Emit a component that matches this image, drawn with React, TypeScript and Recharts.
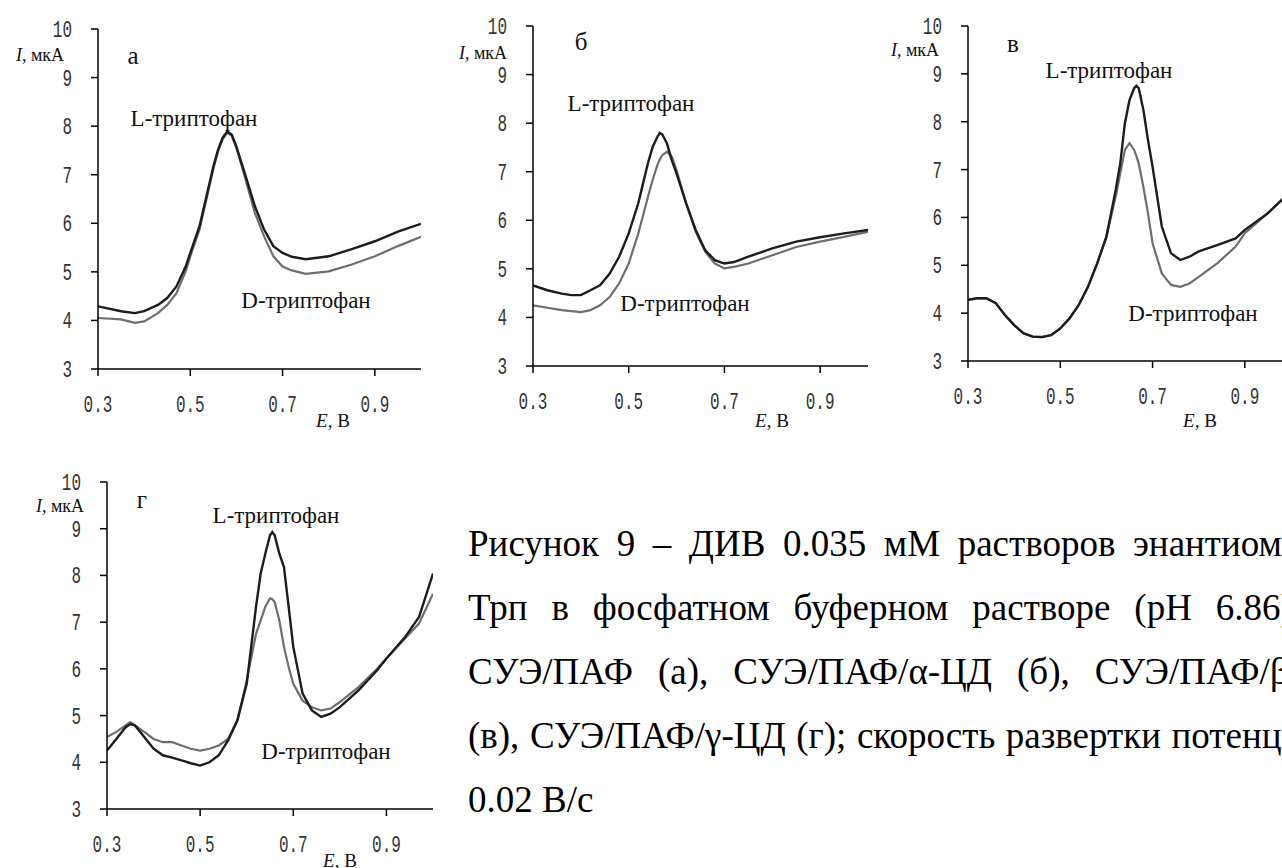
import React from "react";
import { LineChart, Line, XAxis, YAxis } from "recharts";

// ---------- data ----------
const E_TICKS = [0.3, 0.5, 0.7, 0.9];
const I_TICKS = [3, 4, 5, 6, 7, 8, 9, 10];

// panel а (СУЭ/ПАФ)
const E_A = [0.3, 0.35, 0.38, 0.4, 0.43, 0.45, 0.47, 0.49, 0.5, 0.52, 0.54, 0.55, 0.56, 0.57, 0.58, 0.59, 0.6, 0.62, 0.64, 0.66, 0.68, 0.7, 0.72, 0.75, 0.8, 0.85, 0.9, 0.95, 1.0];
const L_A = [4.29, 4.19, 4.15, 4.19, 4.32, 4.46, 4.7, 5.11, 5.39, 5.94, 6.76, 7.17, 7.51, 7.76, 7.89, 7.82, 7.58, 6.97, 6.35, 5.87, 5.53, 5.39, 5.31, 5.26, 5.32, 5.47, 5.63, 5.83, 5.99];
const D_A = [4.05, 4.02, 3.95, 3.98, 4.15, 4.32, 4.56, 5.01, 5.32, 5.87, 6.7, 7.12, 7.47, 7.73, 7.86, 7.8, 7.55, 6.9, 6.21, 5.73, 5.32, 5.11, 5.03, 4.96, 5.01, 5.15, 5.32, 5.53, 5.72];

// panel б (СУЭ/ПАФ/α-ЦД)
const E_B = [0.3, 0.33, 0.36, 0.38, 0.4, 0.42, 0.44, 0.46, 0.48, 0.5, 0.52, 0.53, 0.54, 0.55, 0.56, 0.565, 0.57, 0.58, 0.59, 0.6, 0.62, 0.64, 0.66, 0.68, 0.7, 0.72, 0.75, 0.8, 0.85, 0.9, 0.95, 1.0];
const L_B = [4.66, 4.56, 4.49, 4.46, 4.46, 4.56, 4.66, 4.9, 5.25, 5.73, 6.35, 6.76, 7.17, 7.51, 7.72, 7.8, 7.77, 7.58, 7.24, 6.96, 6.35, 5.8, 5.38, 5.18, 5.11, 5.14, 5.25, 5.42, 5.56, 5.65, 5.73, 5.8];
const D_B = [4.25, 4.2, 4.15, 4.13, 4.11, 4.15, 4.25, 4.42, 4.7, 5.11, 5.73, 6.1, 6.48, 6.83, 7.14, 7.25, 7.34, 7.41, 7.31, 7.03, 6.35, 5.76, 5.35, 5.11, 5.01, 5.04, 5.11, 5.28, 5.45, 5.56, 5.66, 5.76];

// panel в (СУЭ/ПАФ/β-ЦД)
const E_V = [0.3, 0.32, 0.34, 0.36, 0.38, 0.4, 0.42, 0.44, 0.46, 0.48, 0.5, 0.52, 0.54, 0.56, 0.58, 0.6, 0.62, 0.63, 0.64, 0.65, 0.66, 0.665, 0.67, 0.68, 0.69, 0.7, 0.72, 0.74, 0.76, 0.78, 0.8, 0.84, 0.88, 0.9, 0.95, 1.0];
const L_V = [4.28, 4.31, 4.31, 4.21, 3.96, 3.75, 3.58, 3.51, 3.5, 3.54, 3.68, 3.89, 4.17, 4.55, 5.04, 5.6, 6.57, 7.13, 7.97, 8.45, 8.7, 8.75, 8.7, 8.25, 7.62, 7.06, 5.81, 5.25, 5.11, 5.18, 5.29, 5.42, 5.56, 5.74, 6.09, 6.55];
const D_V = [4.28, 4.31, 4.31, 4.21, 3.96, 3.75, 3.58, 3.51, 3.5, 3.54, 3.68, 3.89, 4.17, 4.55, 5.04, 5.6, 6.43, 6.92, 7.41, 7.55, 7.41, 7.28, 7.13, 6.64, 6.09, 5.46, 4.83, 4.59, 4.55, 4.62, 4.76, 5.04, 5.39, 5.67, 6.09, 6.55];

// panel г (СУЭ/ПАФ/γ-ЦД)
const E_G = [0.3, 0.32, 0.34, 0.35, 0.36, 0.38, 0.4, 0.42, 0.44, 0.46, 0.48, 0.5, 0.52, 0.54, 0.56, 0.58, 0.6, 0.62, 0.63, 0.64, 0.65, 0.655, 0.66, 0.67, 0.68, 0.69, 0.7, 0.72, 0.74, 0.76, 0.78, 0.8, 0.84, 0.88, 0.9, 0.94, 0.97, 1.0];
const L_G = [4.25, 4.5, 4.75, 4.82, 4.79, 4.54, 4.29, 4.15, 4.1, 4.04, 3.98, 3.93, 4.0, 4.15, 4.47, 4.9, 5.68, 7.33, 8.04, 8.47, 8.86, 8.93, 8.86, 8.47, 8.18, 7.33, 6.47, 5.47, 5.11, 4.97, 5.04, 5.18, 5.54, 5.97, 6.22, 6.68, 7.11, 8.04];
const D_G = [4.54, 4.65, 4.79, 4.86, 4.79, 4.65, 4.5, 4.43, 4.43, 4.36, 4.29, 4.25, 4.29, 4.36, 4.5, 4.9, 5.75, 6.75, 7.04, 7.33, 7.51, 7.49, 7.43, 7.04, 6.47, 6.04, 5.68, 5.32, 5.18, 5.11, 5.15, 5.29, 5.61, 6.0, 6.22, 6.65, 6.97, 7.61];

const PANEL_LETTERS = ["а", "б", "в", "г"];
const CURVE_L = "L-триптофан";
const CURVE_D = "D-триптофан";
const Y_TITLE_ITALIC = "I,";
const Y_TITLE_REST = " мкА";
const X_TITLE_ITALIC = "E,";
const X_TITLE_REST = " В";

const CAPTION_LINES = [
  "Рисунок 9 – ДИВ 0.035 мМ растворов энантиомеров",
  "Трп в фосфатном буферном растворе (рН 6.86) на",
  "СУЭ/ПАФ (а), СУЭ/ПАФ/α-ЦД (б), СУЭ/ПАФ/β-ЦД",
  "(в), СУЭ/ПАФ/γ-ЦД (г); скорость развертки потенциала",
  "0.02 В/с",
];

const zip = (e: number[], l: number[], d: number[]) =>
  e.map((v, i) => ({ e: v, L: l[i], D: d[i] }));

// ---------- layout ----------
const PANELS = [
  { rows: zip(E_A, L_A, D_A), x0: 98, x1: 421, yTop: 29, yBot: 369 },
  { rows: zip(E_B, L_B, D_B), x0: 533, x1: 868, yTop: 26, yBot: 366 },
  { rows: zip(E_V, L_V, D_V), x0: 968, x1: 1291, yTop: 26, yBot: 361 },
  { rows: zip(E_G, L_G, D_G), x0: 107, x1: 433, yTop: 482, yBot: 809 },
];

// annotation positions (centres, px)
const ANNOT = [
  { yT: [40, 55], letter: [133, 55], l: [194, 118], d: [306, 300], xT: [333, 420] },
  { yT: [483, 53], letter: [581, 41], l: [631, 103], d: [685, 303], xT: [772, 420] },
  { yT: [915, 50], letter: [1013, 43], l: [1109, 70], d: [1193, 313], xT: [1200, 420] },
  { yT: [60, 506], letter: [142, 499], l: [276, 515], d: [326, 751], xT: [340, 860] },
];

const TICK_FONT = "'Liberation Mono', 'Courier New', monospace";
const SERIF = "'Liberation Serif', 'Times New Roman', serif";

const XTick = (props: any) => {
  const { x, y, payload } = props;
  return (
    <text
      transform={`translate(${x},${y + 34}) scale(1,1.55)`}
      textAnchor="middle"
      fontFamily={TICK_FONT}
      fontSize={16}
      fill="#333"
    >
      {Number(payload.value).toFixed(1)}
    </text>
  );
};

const YTick = (props: any) => {
  const { x, y, payload } = props;
  return (
    <text
      transform={`translate(${x - 17},${y + 8}) scale(1,1.55)`}
      textAnchor="end"
      fontFamily={TICK_FONT}
      fontSize={16}
      fill="#333"
    >
      {payload.value}
    </text>
  );
};

const ML = 70;
const MR = 10;
const MT = 26;
const MB = 60;

function Panel({ p }: { p: (typeof PANELS)[number] }) {
  const w = p.x1 - p.x0 + ML + MR;
  const h = p.yBot - p.yTop + MT + MB;
  return (
    <div style={{ position: "absolute", left: p.x0 - ML, top: p.yTop - MT }}>
      <LineChart width={w} height={h} data={p.rows} margin={{ top: MT, right: MR, bottom: 0, left: 0 }}>
        <XAxis
          dataKey="e"
          type="number"
          domain={[0.3, 1.0]}
          allowDataOverflow
          ticks={E_TICKS}
          height={MB}
          tickSize={7}
          axisLine={{ stroke: "#000", strokeWidth: 1.5 }}
          tickLine={{ stroke: "#000", strokeWidth: 1.5 }}
          tick={<XTick />}
          interval={0}
        />
        <YAxis
          type="number"
          domain={[3, 10]}
          allowDataOverflow
          ticks={I_TICKS}
          width={ML}
          tickSize={7}
          axisLine={{ stroke: "#000", strokeWidth: 1.5 }}
          tickLine={{ stroke: "#000", strokeWidth: 1.5 }}
          tick={<YTick />}
          interval={0}
        />
        <Line dataKey="D" type="linear" stroke="#6e6e6e" strokeWidth={2.2} dot={false} isAnimationActive={false} />
        <Line dataKey="L" type="linear" stroke="#1c1c1c" strokeWidth={2.4} dot={false} isAnimationActive={false} />
      </LineChart>
    </div>
  );
}

function Annotations() {
  return (
    <svg
      width={1282}
      height={868}
      style={{ position: "absolute", left: 0, top: 0, pointerEvents: "none" }}
    >
      {ANNOT.map((a, i) => (
        <g key={i} fill="#111" fontFamily={SERIF}>
          <text x={a.yT[0]} y={a.yT[1]} textAnchor="middle" dominantBaseline="central" fontSize={18}>
            <tspan fontStyle="italic">{Y_TITLE_ITALIC}</tspan>
            {Y_TITLE_REST}
          </text>
          <text x={a.letter[0]} y={a.letter[1]} textAnchor="middle" dominantBaseline="central" fontSize={25}>
            {PANEL_LETTERS[i]}
          </text>
          <text x={a.l[0]} y={a.l[1]} textAnchor="middle" dominantBaseline="central" fontSize={23}>
            {CURVE_L}
          </text>
          <text x={a.d[0]} y={a.d[1]} textAnchor="middle" dominantBaseline="central" fontSize={23}>
            {CURVE_D}
          </text>
          <text x={a.xT[0]} y={a.xT[1]} textAnchor="middle" dominantBaseline="central" fontSize={19}>
            <tspan fontStyle="italic">{X_TITLE_ITALIC}</tspan>
            {X_TITLE_REST}
          </text>
        </g>
      ))}
    </svg>
  );
}

function Caption() {
  return (
    <div
      style={{
        position: "absolute",
        left: 468,
        top: 512,
        width: 885,
        fontFamily: SERIF,
        fontSize: 37,
        lineHeight: "64px",
        color: "#000",
      }}
    >
      {CAPTION_LINES.map((line, i) => {
        const last = i === CAPTION_LINES.length - 1;
        return (
          <div
            key={i}
            style={{
              display: "flex",
              justifyContent: last ? "flex-start" : "space-between",
              gap: last ? "0.25em" : 0,
              whiteSpace: "nowrap",
              height: 64,
            }}
          >
            {line.split(" ").map((w, j) => (
              <span key={j}>{w}</span>
            ))}
          </div>
        );
      })}
    </div>
  );
}

export default function App() {
  return (
    <div
      style={{
        position: "absolute",
        left: 0,
        top: 0,
        width: 1282,
        height: 868,
        overflow: "hidden",
        background: "#fff",
      }}
    >
      {PANELS.map((p, i) => (
        <Panel key={i} p={p} />
      ))}
      <Caption />
      <Annotations />
    </div>
  );
}
